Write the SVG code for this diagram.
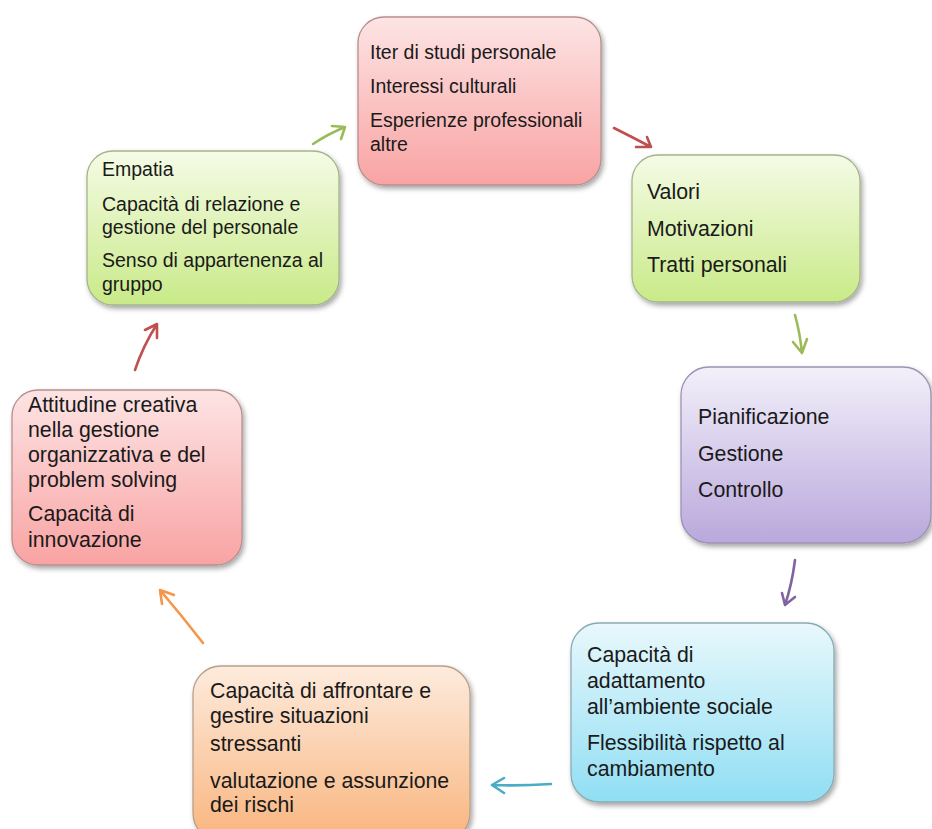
<svg xmlns="http://www.w3.org/2000/svg" width="932" height="829" viewBox="0 0 932 829">
  <defs>
    <linearGradient id="gPink" x1="0" y1="0" x2="0" y2="1">
      <stop offset="0" stop-color="#fde4e4"/>
      <stop offset="1" stop-color="#f9a3a3"/>
    </linearGradient>
    <linearGradient id="gGreen" x1="0" y1="0" x2="0" y2="1">
      <stop offset="0" stop-color="#f5fbe6"/>
      <stop offset="1" stop-color="#c9ea88"/>
    </linearGradient>
    <linearGradient id="gPurple" x1="0" y1="0" x2="0" y2="1">
      <stop offset="0" stop-color="#f3f0fa"/>
      <stop offset="1" stop-color="#b9a8dc"/>
    </linearGradient>
    <linearGradient id="gBlue" x1="0" y1="0" x2="0" y2="1">
      <stop offset="0" stop-color="#e8f8fc"/>
      <stop offset="1" stop-color="#90def3"/>
    </linearGradient>
    <linearGradient id="gOrange" x1="0" y1="0" x2="0" y2="1">
      <stop offset="0" stop-color="#fdebdd"/>
      <stop offset="1" stop-color="#f9b57e"/>
    </linearGradient>
    <filter id="shadow" x="-10%" y="-10%" width="125%" height="125%">
      <feDropShadow dx="2" dy="3" stdDeviation="2.5" flood-color="#000" flood-opacity="0.35"/>
    </filter>
  </defs>
  <style>
    .box { stroke-width: 1.3; filter: url(#shadow); }
    .t { font-family: "Liberation Sans", Arial, sans-serif; fill: #1a1a1a; }
    .s1 { font-size: 19.5px; }
    .s2 { font-size: 21.3px; }
    .arr { fill: none; stroke-width: 2.6; stroke-linecap: round; stroke-linejoin: round; }
  </style>
  <rect width="932" height="829" fill="#ffffff"/>

  <g id="connectors">
    <path class="arr" stroke="#9bbb59" d="M313,144 Q328,134 345,127 M332,126 L345,127 L341,139"/>
    <path class="arr" stroke="#c0504d" d="M614,128 Q632,137 651,147 M636,147 L651,147 L647,137"/>
    <path class="arr" stroke="#9bbb59" d="M795,315 Q800,333 802,353 M793,342 L802,353 L807,339"/>
    <path class="arr" stroke="#8064a2" d="M795,560 Q792,584 785,605 M782,593 L785,605 L795,597"/>
    <path class="arr" stroke="#4bacc6" d="M551,784 Q520,786 492,785 M504,778 L492,785 L504,793"/>
    <path class="arr" stroke="#f79646" d="M203,643 Q182,616 160,590 M174,595 L160,590 L162,604"/>
    <path class="arr" stroke="#c0504d" d="M135,370 Q143,346 157,324 M145,330 L157,324 L157,338"/>
  </g>

  <g id="node-studi">
    <rect class="box" x="358" y="17" width="243" height="168" rx="26" fill="url(#gPink)" stroke="#b78e8e"/>
    <text class="t s1" x="370" y="59">Iter di studi personale</text>
    <text class="t s1" x="370" y="93">Interessi culturali</text>
    <text class="t s1" x="370" y="127">Esperienze professionali</text>
    <text class="t s1" x="370" y="151">altre</text>
  </g>

  <g id="node-valori">
    <rect class="box" x="632" y="155" width="228" height="147" rx="26" fill="url(#gGreen)" stroke="#a4b48a"/>
    <text class="t s2" x="647" y="199">Valori</text>
    <text class="t s2" x="647" y="236">Motivazioni</text>
    <text class="t s2" x="647" y="272">Tratti personali</text>
  </g>

  <g id="node-pianificazione">
    <rect class="box" x="681" y="367" width="250" height="176" rx="28" fill="url(#gPurple)" stroke="#9c92b4"/>
    <text class="t s2" x="698" y="424">Pianificazione</text>
    <text class="t s2" x="698" y="461">Gestione</text>
    <text class="t s2" x="698" y="497">Controllo</text>
  </g>

  <g id="node-adattamento">
    <rect class="box" x="571" y="623" width="263" height="179" rx="28" fill="url(#gBlue)" stroke="#8aaab4"/>
    <text class="t s2" x="587" y="662">Capacità di</text>
    <text class="t s2" x="587" y="688">adattamento</text>
    <text class="t s2" x="587" y="714">all’ambiente sociale</text>
    <text class="t s2" x="587" y="750">Flessibilità rispetto al</text>
    <text class="t s2" x="587" y="776">cambiamento</text>
  </g>

  <g id="node-stress">
    <rect class="box" x="193" y="666" width="277" height="175" rx="28" fill="url(#gOrange)" stroke="#b8a08c"/>
    <text class="t s2" x="210" y="698">Capacità di affrontare e</text>
    <text class="t s2" x="210" y="723">gestire situazioni</text>
    <text class="t s2" x="210" y="751">stressanti</text>
    <text class="t s2" x="210" y="788">valutazione e assunzione</text>
    <text class="t s2" x="210" y="812">dei rischi</text>
  </g>

  <g id="node-creativa">
    <rect class="box" x="12" y="390" width="230" height="175" rx="26" fill="url(#gPink)" stroke="#b78e8e"/>
    <text class="t s2" x="28" y="412">Attitudine creativa</text>
    <text class="t s2" x="28" y="437">nella gestione</text>
    <text class="t s2" x="28" y="462">organizzativa e del</text>
    <text class="t s2" x="28" y="487">problem solving</text>
    <text class="t s2" x="28" y="521">Capacità di</text>
    <text class="t s2" x="28" y="547">innovazione</text>
  </g>

  <g id="node-empatia">
    <rect class="box" x="87" y="151" width="252" height="154" rx="26" fill="url(#gGreen)" stroke="#a4b48a"/>
    <text class="t s1" x="102" y="176">Empatia</text>
    <text class="t s1" x="102" y="211">Capacità di relazione e</text>
    <text class="t s1" x="102" y="234">gestione del personale</text>
    <text class="t s1" x="102" y="267">Senso di appartenenza al</text>
    <text class="t s1" x="102" y="291">gruppo</text>
  </g>
</svg>
